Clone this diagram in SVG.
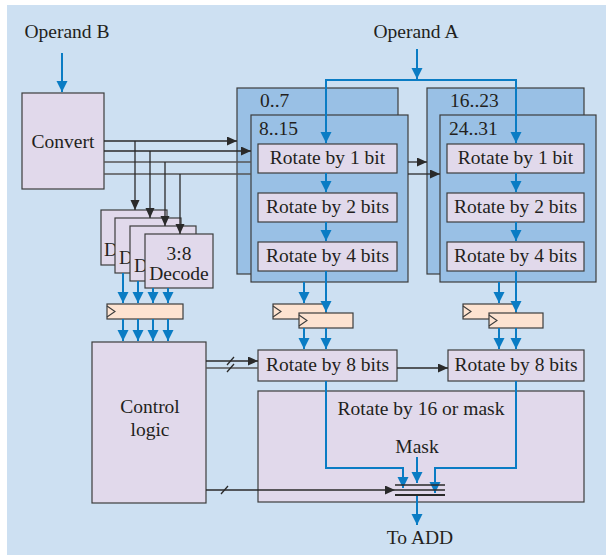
<svg xmlns="http://www.w3.org/2000/svg" width="606" height="555" viewBox="0 0 606 555">
<defs>
<style>
.t{font-family:"Liberation Serif","Times New Roman",serif;font-size:19.5px;fill:#231f20}
.m{text-anchor:middle}
.blk{fill:#99c0e5;stroke:#3c3c3c;stroke-width:1.2}
.lav{fill:#e1d9eb;stroke:#3c3c3c;stroke-width:1.2}
.reg{fill:#fde3d1;stroke:#3c3c3c;stroke-width:1.2}
.clk{fill:none;stroke:#3c3c3c;stroke-width:1.1}
.ba{fill:none;stroke:#0a7cc4;stroke-width:2;marker-end:url(#ab)}
.ka{fill:none;stroke:#2a2a2a;stroke-width:1.3;marker-end:url(#ak)}
.k{fill:none;stroke:#2a2a2a;stroke-width:1.3}
.g{fill:none;stroke:#555;stroke-width:1.3}
</style>
<marker id="ab" markerUnits="userSpaceOnUse" markerWidth="12" markerHeight="12" refX="11" refY="5.5" orient="auto">
<path d="M0,0 L11,5.5 L0,11 z" fill="#0a7cc4"/>
</marker>
<marker id="ak" markerUnits="userSpaceOnUse" markerWidth="11" markerHeight="10" refX="10" refY="4.5" orient="auto">
<path d="M0,0 L10,4.5 L0,9 z" fill="#2a2a2a"/>
</marker>
</defs>
<rect x="7" y="5" width="599" height="550" fill="#cde0f2"/>
<text class="t m" x="67" y="38">Operand B</text>
<text class="t m" x="416" y="38">Operand A</text>
<text class="t m" x="420" y="544">To ADD</text>

<g id="convert"><rect class="lav" x="22" y="93" width="82" height="96"/><text class="t m" x="63" y="148">Convert</text></g>
<g id="decode1"><rect class="lav" x="101" y="210" width="66" height="55"/><text class="t" x="104" y="256">D</text></g>
<g id="decode2"><rect class="lav" x="115" y="218" width="66" height="55"/><text class="t" x="119" y="264">D</text></g>
<g id="decode3"><rect class="lav" x="130" y="226" width="66" height="55"/><text class="t" x="134" y="272">D</text></g>
<g id="decode4"><rect class="lav" x="145" y="234" width="68" height="54"/><text class="t m" x="179" y="260">3:8</text><text class="t m" x="179" y="280">Decode</text></g>
<g id="decode-reg"><rect class="reg" x="107" y="304" width="76" height="15"/><path class="clk" d="M107,306 L115,311.5 L107,317"/></g>
<g id="control"><rect class="lav" x="92" y="342" width="114" height="161"/><text class="t m" x="150" y="413">Control</text><text class="t m" x="150" y="436">logic</text></g>

<g id="byte0"><rect class="blk" x="237" y="88" width="161" height="186"/><text class="t" x="260" y="107">0..7</text></g>
<g id="byte1"><rect class="blk" x="251" y="115" width="157" height="167"/><text class="t" x="259" y="135">8..15</text>
<rect class="lav" x="258" y="144" width="139" height="29"/><text class="t m" x="327.5" y="164">Rotate by 1 bit</text>
<rect class="lav" x="258" y="193" width="139" height="29"/><text class="t m" x="327.5" y="213">Rotate by 2 bits</text>
<rect class="lav" x="258" y="242" width="139" height="29"/><text class="t m" x="327.5" y="262">Rotate by 4 bits</text></g>
<g id="byte2"><rect class="blk" x="427" y="88" width="157" height="186"/><text class="t" x="450" y="107">16..23</text></g>
<g id="byte3"><rect class="blk" x="440" y="115" width="156" height="167"/><text class="t" x="449" y="135">24..31</text>
<rect class="lav" x="447" y="144" width="137" height="29"/><text class="t m" x="515.5" y="164">Rotate by 1 bit</text>
<rect class="lav" x="447" y="193" width="137" height="29"/><text class="t m" x="515.5" y="213">Rotate by 2 bits</text>
<rect class="lav" x="447" y="242" width="137" height="29"/><text class="t m" x="515.5" y="262">Rotate by 4 bits</text></g>

<g id="regs-left"><rect class="reg" x="273" y="304" width="53" height="15"/><path class="clk" d="M273,306 L281,311.5 L273,317"/>
<rect class="reg" x="299" y="313" width="54" height="15"/><path class="clk" d="M299,315 L307,320.5 L299,326"/></g>
<g id="regs-right"><rect class="reg" x="463" y="304" width="53" height="15"/><path class="clk" d="M463,306 L471,311.5 L463,317"/>
<rect class="reg" x="489" y="313" width="54" height="15"/><path class="clk" d="M489,315 L497,320.5 L489,326"/></g>

<g id="rot8-left"><rect class="lav" x="258" y="350" width="139" height="31"/><text class="t m" x="327.5" y="371">Rotate by 8 bits</text></g>
<g id="rot8-right"><rect class="lav" x="448" y="350" width="136" height="31"/><text class="t m" x="516" y="371">Rotate by 8 bits</text></g>
<g id="rot16"><rect class="lav" x="258" y="391" width="326" height="111"/><text class="t m" x="421" y="415">Rotate by 16 or mask</text><text class="t m" x="417" y="453">Mask</text></g>

<g id="connectors">
<path class="ba" d="M62,53 V92"/>
<path class="ba" d="M417,49 V79"/>
<path class="ba" d="M417,80 H326 V143"/>
<path class="ba" d="M417,80 H516 V143"/>
<path class="ba" d="M326,173 V192"/><path class="ba" d="M326,222 V241"/>
<path class="ba" d="M516,173 V192"/><path class="ba" d="M516,222 V241"/>
<path class="ba" d="M304,282 V303"/><path class="ba" d="M326,271 V312"/>
<path class="ba" d="M499,282 V303"/><path class="ba" d="M516,271 V312"/>
<path class="ba" d="M304,328 V349"/><path class="ba" d="M326,328 V349"/>
<path class="ba" d="M499,328 V349"/><path class="ba" d="M516,328 V349"/>
<path class="ba" d="M123,273 V303"/><path class="ba" d="M138,281 V303"/><path class="ba" d="M153,288 V303"/><path class="ba" d="M168,288 V303"/>
<path class="ba" d="M123,319 V341"/><path class="ba" d="M138,319 V341"/><path class="ba" d="M153,319 V341"/><path class="ba" d="M168,319 V341"/>
<path class="ba" d="M326,381 V468 H403 V488"/>
<path class="ba" d="M516,381 V468 H435 V493"/>
<path class="ba" d="M417,457 V483"/>
<path class="ba" d="M417,495 V525"/>
<path class="ka" d="M104,141 H237"/>
<path class="ka" d="M104,151 H251"/>
<path class="g" d="M104,162 H251"/><path class="ka" d="M408,162 H427"/>
<path class="g" d="M104,174 H251"/><path class="ka" d="M408,174 H440"/>
<path class="ka" d="M135,141 V210"/>
<path class="ka" d="M150,151 V218"/>
<path class="ka" d="M165,162 V226"/>
<path class="ka" d="M180,174 V234"/>
<path class="ka" d="M206,361 H258"/>
<path class="g" d="M206,368 H258"/><path class="ka" d="M397,368 H448"/>
<path class="ka" d="M206,490 H395"/>
<path class="k" d="M227,365 L234,357 M227,372 L234,364 M221,494 L228,486"/>
</g>
<g id="mux">
<path class="k" d="M395,485 H445 M395,490 H445"/>
<path d="M395,495 H445" fill="none" stroke="#2a2a2a" stroke-width="2"/>
</g>
</svg>
